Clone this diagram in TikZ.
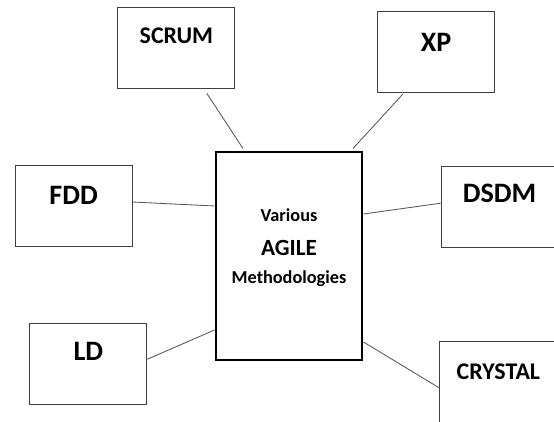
\documentclass[tikz,border=0pt]{standalone}
\usepackage{fontspec}
\setmainfont{Carlito}
\usepackage{tikz}
\usetikzlibrary{positioning,calc}

\definecolor{boxline}{HTML}{404040}
\definecolor{linkline}{HTML}{555555}

\tikzset{
  method/.style={draw=boxline,line width=0.6pt,minimum width=2.925cm,minimum height=2.025cm,inner sep=0pt},
  methlabel/.style={anchor=base,inner sep=0pt,font=\bfseries\fontsize{20}{24}\selectfont},
  hub/.style={draw=black,line width=2.1pt,minimum width=3.65cm,minimum height=5.2cm,inner sep=0pt},
  hubtext/.style={align=center,inner sep=0pt,font=\bfseries\fontsize{13}{22}\selectfont},
  link/.style={draw=linkline,line width=0.6pt}
}

\begin{document}
\begin{tikzpicture}
  \useasboundingbox (0,0) rectangle (13.85,-10.525);
  \clip (0,0) rectangle (13.85,-10.525);

  \node[hub] (agile) at (7.225,-6.4) {};
  \node[hubtext] (agiletxt) at ([yshift=0.2cm]agile.center) {%
    Various\\[2pt]
    {\fontsize{16.5}{22}\selectfont AGILE}\\[-2pt]
    Methodologies};

  \node[method] (scrum) at (4.41,-1.21) {};
  \node[method] (xp) at (10.9,-1.31) {};
  \node[method] (fdd) at (1.84,-5.14) {};
  \node[method] (ld) at (2.21,-9.09) {};
  \node[method] (dsdm) at (12.49,-5.18) {};
  \node[method] (crystal) at (12.46,-9.56) {};

  \node[methlabel,font=\bfseries\fontsize{17}{20}\selectfont] (scrumtxt) at ([yshift=-0.9cm]scrum.north) {SCRUM};
  \node[methlabel] (xptxt) at ([yshift=-1cm]xp.north) {XP};
  \node[methlabel] (fddtxt) at ([yshift=-1cm]fdd.north) {FDD};
  \node[methlabel] (ldtxt) at ([yshift=-0.95cm]ld.north) {LD};
  \node[methlabel] (dsdmtxt) at ([yshift=-0.9cm]dsdm.north) {DSDM};
  \node[methlabel,font=\bfseries\fontsize{17}{20}\selectfont] (crystaltxt) at ([yshift=-0.95cm]crystal.north) {CRYSTAL};

  \draw[link] ([xshift=0.76cm,yshift=-0.1cm]scrum.south) -- ([xshift=-1.15cm,yshift=0.05cm]agile.north);
  \draw[link] ([xshift=-0.83cm,yshift=-0.02cm]xp.south) -- ([xshift=1.6cm,yshift=0.05cm]agile.north);
  \draw[link] ([yshift=0.09cm]fdd.east) -- ([yshift=1.25cm]agile.west);
  \draw[link] ([yshift=0.11cm]ld.east) -- ([yshift=-1.85cm]agile.west);
  \draw[link] ([yshift=1.05cm]agile.east) -- ([yshift=0.1cm]dsdm.west);
  \draw[link] ([yshift=-2.15cm]agile.east) -- ([yshift=-0.14cm]crystal.west);
\end{tikzpicture}
\end{document}
